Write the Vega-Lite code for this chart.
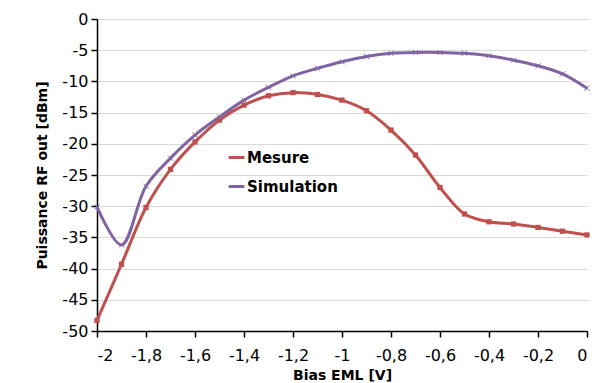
{
  "$schema": "https://vega.github.io/schema/vega-lite/v6.json",
  "autosize": {"type": "none"},
  "width": 490,
  "height": 312,
  "padding": {"left": 97, "top": 19, "right": 8, "bottom": 52},
  "background": "white",
  "config": {
    "font": "DejaVu Sans",
    "view": {"stroke": null},
    "locale": {"number": {"decimal": ",", "thousands": ".", "grouping": [3], "currency": ["", " €"], "minus": "-"}}
  },
  "data": {
    "values": [
      {"bias": -2.0, "p": -48.3, "serie": "Mesure"},
      {"bias": -1.9, "p": -39.3, "serie": "Mesure"},
      {"bias": -1.8, "p": -30.2, "serie": "Mesure"},
      {"bias": -1.7, "p": -24.1, "serie": "Mesure"},
      {"bias": -1.6, "p": -19.7, "serie": "Mesure"},
      {"bias": -1.5, "p": -16.2, "serie": "Mesure"},
      {"bias": -1.4, "p": -13.8, "serie": "Mesure"},
      {"bias": -1.3, "p": -12.3, "serie": "Mesure"},
      {"bias": -1.2, "p": -11.8, "serie": "Mesure"},
      {"bias": -1.1, "p": -12.1, "serie": "Mesure"},
      {"bias": -1.0, "p": -13.0, "serie": "Mesure"},
      {"bias": -0.9, "p": -14.7, "serie": "Mesure"},
      {"bias": -0.8, "p": -17.8, "serie": "Mesure"},
      {"bias": -0.7, "p": -21.8, "serie": "Mesure"},
      {"bias": -0.6, "p": -27.0, "serie": "Mesure"},
      {"bias": -0.5, "p": -31.25, "serie": "Mesure"},
      {"bias": -0.4, "p": -32.5, "serie": "Mesure"},
      {"bias": -0.3, "p": -32.85, "serie": "Mesure"},
      {"bias": -0.2, "p": -33.4, "serie": "Mesure"},
      {"bias": -0.1, "p": -34.0, "serie": "Mesure"},
      {"bias": 0.0, "p": -34.6, "serie": "Mesure"},
      {"bias": -2.0, "p": -30.1, "serie": "Simulation"},
      {"bias": -1.9, "p": -36.2, "serie": "Simulation"},
      {"bias": -1.8, "p": -26.8, "serie": "Simulation"},
      {"bias": -1.7, "p": -22.3, "serie": "Simulation"},
      {"bias": -1.6, "p": -18.6, "serie": "Simulation"},
      {"bias": -1.5, "p": -15.7, "serie": "Simulation"},
      {"bias": -1.4, "p": -13.0, "serie": "Simulation"},
      {"bias": -1.3, "p": -10.95, "serie": "Simulation"},
      {"bias": -1.2, "p": -9.1, "serie": "Simulation"},
      {"bias": -1.1, "p": -7.9, "serie": "Simulation"},
      {"bias": -1.0, "p": -6.85, "serie": "Simulation"},
      {"bias": -0.9, "p": -6.0, "serie": "Simulation"},
      {"bias": -0.8, "p": -5.5, "serie": "Simulation"},
      {"bias": -0.7, "p": -5.35, "serie": "Simulation"},
      {"bias": -0.6, "p": -5.35, "serie": "Simulation"},
      {"bias": -0.5, "p": -5.5, "serie": "Simulation"},
      {"bias": -0.4, "p": -5.9, "serie": "Simulation"},
      {"bias": -0.3, "p": -6.6, "serie": "Simulation"},
      {"bias": -0.2, "p": -7.5, "serie": "Simulation"},
      {"bias": -0.1, "p": -8.8, "serie": "Simulation"},
      {"bias": 0.0, "p": -11.1, "serie": "Simulation"}
    ]
  },
  "encoding": {
    "x": {
      "field": "bias", "type": "quantitative",
      "scale": {"domain": [-2, 0], "nice": false},
      "axis": {
        "values": [-2, -1.8, -1.6, -1.4, -1.2, -1, -0.8, -0.6, -0.4, -0.2, 0],
        "format": ".1~f",
        "title": "Bias EML [V]",
        "titleFont": "DejaVu Sans", "titleFontSize": 14, "titleFontWeight": "bold", "titleColor": "#000",
        "titlePadding": 5,
        "labelFont": "DejaVu Sans", "labelFontSize": 16, "labelColor": "#000", "labelPadding": 10,
        "domainColor": "#000", "domainWidth": 1.5,
        "tickColor": "#000", "tickWidth": 1.5, "tickSize": 6,
        "grid": false
      }
    },
    "y": {
      "field": "p", "type": "quantitative",
      "scale": {"domain": [-50, 0], "nice": false},
      "axis": {
        "values": [-50, -45, -40, -35, -30, -25, -20, -15, -10, -5, 0],
        "title": "Puissance RF out [dBm]",
        "titleFont": "DejaVu Sans", "titleFontSize": 14, "titleFontWeight": "bold", "titleColor": "#000",
        "titlePadding": 12,
        "labelFont": "DejaVu Sans", "labelFontSize": 16, "labelColor": "#000", "labelPadding": 3,
        "domainColor": "#000", "domainWidth": 1.5,
        "tickColor": "#000", "tickWidth": 1.5, "tickSize": 6,
        "grid": true, "gridColor": "#d9d9d9", "gridWidth": 1
      }
    }
  },
  "layer": [
    {
      "mark": {"type": "line", "interpolate": "catmull-rom", "strokeWidth": 3},
      "encoding": {
        "color": {
          "field": "serie", "type": "nominal",
          "scale": {"domain": ["Mesure", "Simulation"], "range": ["#C0504D", "#8064A2"]},
          "legend": {
            "title": null, "orient": "none", "legendX": 130, "legendY": 129,
            "symbolType": "stroke", "symbolStrokeWidth": 3, "symbolSize": 250,
            "labelFont": "DejaVu Sans", "labelFontSize": 15, "labelFontWeight": "bold", "labelColor": "#000",
            "rowPadding": 11, "labelOffset": 1
          }
        }
      }
    },
    {
      "transform": [{"filter": "datum.serie === 'Mesure'"}],
      "mark": {"type": "point", "shape": "square", "filled": true, "size": 28, "color": "#C0504D", "opacity": 1}
    },
    {
      "transform": [{"filter": "datum.serie === 'Simulation'"}],
      "mark": {"type": "point", "shape": "M-1,-1L1,1M-1,1L1,-1", "filled": false, "size": 25, "color": "#8064A2", "strokeWidth": 1, "opacity": 1}
    }
  ]
}
